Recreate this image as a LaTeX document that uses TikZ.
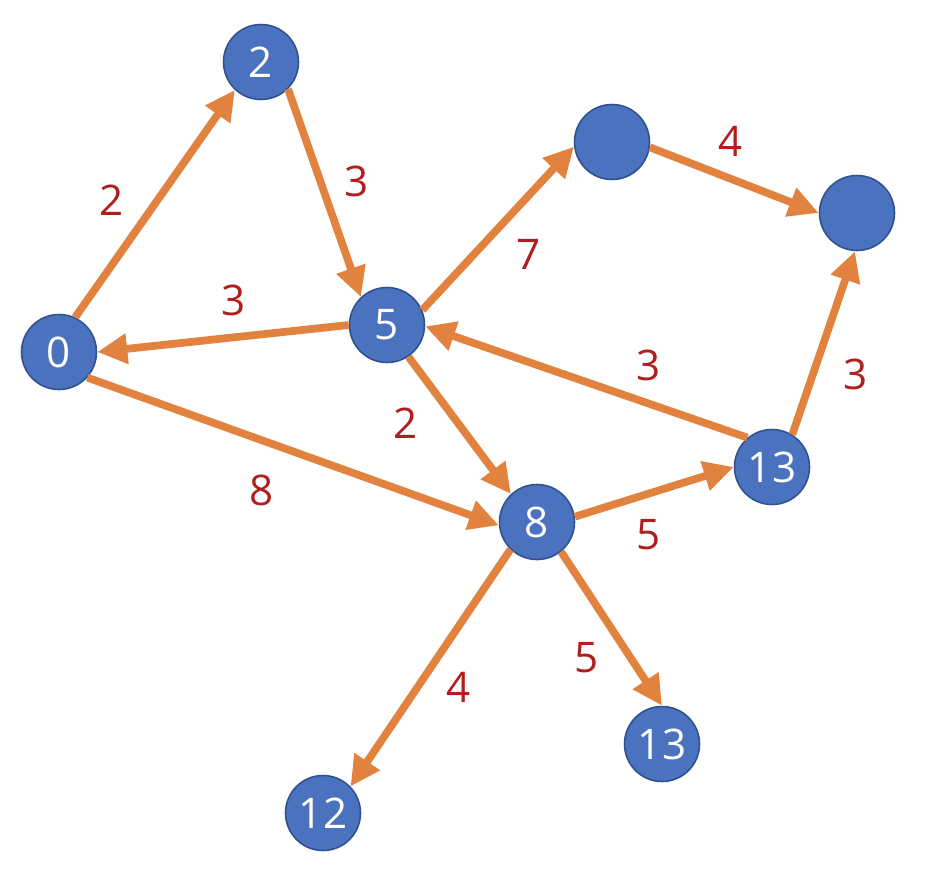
\documentclass[tikz,border=0pt]{standalone}
\usepackage{fontspec}
\setmainfont{Open Sans}
\usetikzlibrary{arrows.meta}
\definecolor{nodeblue}{HTML}{4A72BF}
\definecolor{nodeedge}{HTML}{2F528F}
\definecolor{edgeorange}{HTML}{E2823F}
\definecolor{wred}{HTML}{B01E1E}
\begin{document}
\begin{tikzpicture}[x=0.02cm, y=-0.02cm,
    vertex/.style={circle, fill=nodeblue, draw=nodeedge, line width=0.9pt, minimum size=1.5cm, inner sep=0pt, text=white, font=\fontsize{24}{24}\selectfont},
    edge/.style={draw=edgeorange, line width=4.4pt, -{Triangle[length=0.6cm, width=0.58cm]}},
    weight/.style={text=wred, font=\fontsize{24}{24}\selectfont}]

\useasboundingbox (0,0) rectangle (928,882);

% ---- vertices
\node[vertex] (v0) at (59,352) {0};
\node[vertex] (v2) at (261,62) {2};
\node[vertex] (v5) at (387,325) {5};
\node[vertex] (vtop) at (612,142) {};
\node[vertex] (vright) at (857,213) {};
\node[vertex] (v13a) at (772,467) {13};
\node[vertex] (v8) at (537,522) {8};
\node[vertex] (v13b) at (662,744) {13};
\node[vertex] (v12) at (323,813) {12};

% ---- edges (border to border, as in the sketch)
\draw[edge] (v0.65) -- (v2.227);
\draw[edge] (v2.-45) -- (v5.133);
\draw[edge] (v5.180) -- (v0.0);
\draw[edge] (v5.23) -- (vtop.187);
\draw[edge] (vtop.-8) -- (vright.180);
\draw[edge] (v13a.58) -- (vright.267);
\draw[edge] (v13a.130) -- (v5.-2);
\draw[edge] (v5.-56) -- (v8.133);
\draw[edge] (v0.-42) -- (v8.185);
\draw[edge] (v8.8) -- (v13a.180);
\draw[edge] (v8.-51) -- (v13b.90);
\draw[edge] (v8.-134) -- (v12.44);

% ---- weights
\node[weight] (w02) at (112,200) {2};
\node[weight] (w25) at (357,181) {3};
\node[weight] (w50) at (234,300) {3};
\node[weight] (w5t) at (529,254) {7};
\node[weight] (wtr) at (731,141) {4};
\node[weight] (w13r) at (856,374) {3};
\node[weight] (w135) at (649,365) {3};
\node[weight] (w58) at (406,423) {2};
\node[weight] (w08) at (262,490) {8};
\node[weight] (w813) at (649,535) {5};
\node[weight] (w813b) at (587,658) {5};
\node[weight] (w812) at (459,687) {4};
\end{tikzpicture}
\end{document}
